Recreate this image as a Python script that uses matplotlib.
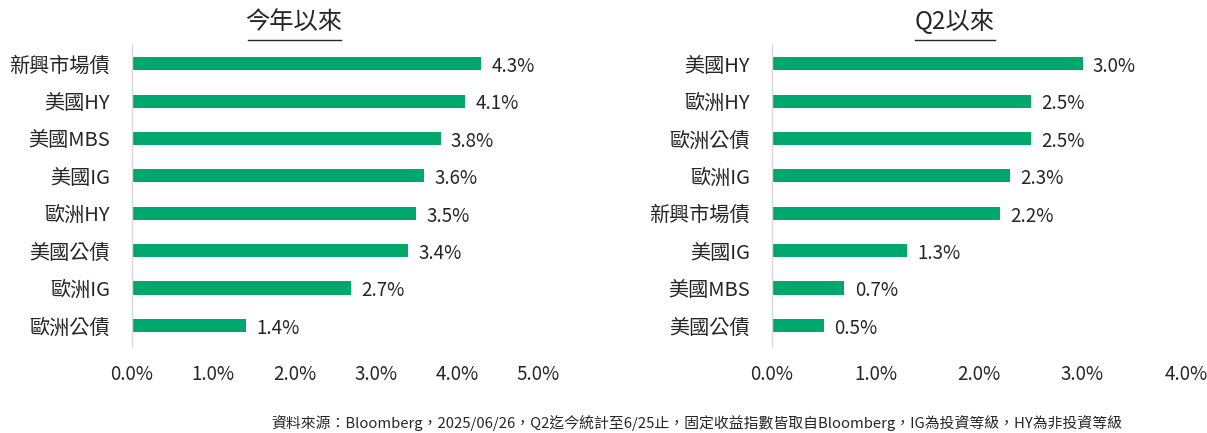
import matplotlib
matplotlib.use("Agg")
import matplotlib.pyplot as plt
from matplotlib.lines import Line2D

plt.rcParams['font.family'] = ['Noto Sans CJK TC', 'DejaVu Sans']

left_title = "今年以來"
left_cats = ["新興市場債", "美國HY", "美國MBS", "美國IG", "歐洲HY", "美國公債", "歐洲IG", "歐洲公債"]
left_vals = [4.3, 4.1, 3.8, 3.6, 3.5, 3.4, 2.7, 1.4]
left_ticks = [0, 1, 2, 3, 4, 5]

right_title = "Q2以來"
right_cats = ["美國HY", "歐洲HY", "歐洲公債", "歐洲IG", "新興市場債", "美國IG", "美國MBS", "美國公債"]
right_vals = [3.0, 2.5, 2.5, 2.3, 2.2, 1.3, 0.7, 0.5]
right_ticks = [0, 1, 2, 3, 4]

footnote = "資料來源：Bloomberg，2025/06/26，Q2迄今統計至6/25止，固定收益指數皆取自Bloomberg，IG為投資等級，HY為非投資等級"

BAR = "#00A76C"
TXT = "#262626"

fig = plt.figure(figsize=(12.07, 4.33), dpi=100)
W, H = 1207, 433

def panel(x0, x1, cats, vals, ticks, title, tcx, ul0, ul1):
    ax = fig.add_axes([x0 / W, 1 - 346 / H, (x1 - x0) / W, 301 / H])
    y = list(range(len(cats)))
    ax.barh(y, vals, height=0.35, color=BAR)
    ax.set_ylim(len(cats) - 0.45, -0.5)
    ax.set_xlim(ticks[0], ticks[-1])
    ax.set_yticks(y)
    ax.set_yticklabels(cats, fontsize=14.5, color=TXT)
    ax.set_xticks(ticks)
    ax.set_xticklabels([f"{t:.1f}%" for t in ticks], fontsize=13.5, color=TXT)
    ax.tick_params(length=0, axis='y', pad=16)
    ax.tick_params(length=0, axis='x', pad=13)
    for s in ['top', 'right', 'bottom']:
        ax.spines[s].set_visible(False)
    ax.spines['left'].set_color('#d9d9d9')
    ax.spines['left'].set_linewidth(1.0)
    for yi, v in zip(y, vals):
        ax.annotate(f"{v:.1f}%", (v, yi), xytext=(7.5, -2), textcoords='offset points',
                    va='center', ha='left', fontsize=13.5, color=TXT)
    fig.text(tcx / W, 1 - 22 / H, title, ha='center', va='center', fontsize=17.5, color=TXT)
    fig.add_artist(Line2D([ul0 / W, ul1 / W], [1 - 40 / H, 1 - 40 / H], color=TXT, lw=1.0))
    return ax

panel(132, 538, left_cats, left_vals, left_ticks, left_title, 294, 248, 341)
panel(772, 1186, right_cats, right_vals, right_ticks, right_title, 955, 915, 995)

fig.text(1122 / W, 1 - 423 / H, footnote, ha='right', va='center', fontsize=10.7, color=TXT)

fig.savefig("out.png", dpi=100)
